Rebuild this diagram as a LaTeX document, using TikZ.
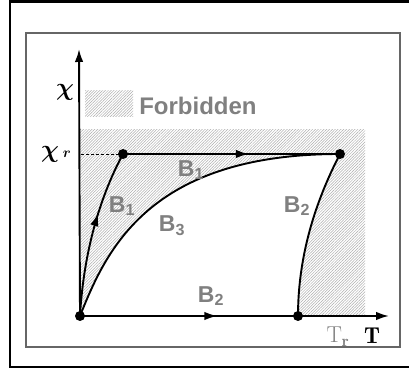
\documentclass[tikz,border=0pt]{standalone}
\usepackage{amsmath}
\usepackage{fontspec}
\setsansfont{Liberation Sans}
\usetikzlibrary{arrows.meta,decorations.markings,patterns.meta}

\begin{document}
\begin{tikzpicture}[x=1pt, y=1pt, line width=1.9pt,
    >={Latex[length=13pt,width=8.5pt]},
    dot/.style={circle, fill=black, inner sep=0pt, minimum size=10pt},
    lbl/.style={font=\sffamily\bfseries\fontsize{23}{25}\selectfont, text=black!50},
    hatch/.style={pattern={Lines[angle=45,distance=2pt,line width=0.5pt]}, pattern color=black!32},
    midarrow/.style={postaction={decorate},
        decoration={markings, mark=at position #1 with {\arrow{>}}}}]
    \useasboundingbox (0,0) rectangle (409,374);

    % Frames
    \draw[line width=2.5pt] (415,372.5) -- (10,372.5) -- (10,7) -- (415,7);
    \draw[black!60, line width=1.2pt] (26,27) rectangle (400,341);

    % Corner points of the paths
    \coordinate (O) at (80,58);
    \coordinate (P1) at (123,220);
    \coordinate (P2) at (340,220);
    \coordinate (P3) at (298,58);
    \coordinate (yr) at (81,220);
    \coordinate (yend) at (79,325);
    \coordinate (xend) at (389,58);

    % Forbidden region
    \fill[hatch] (80,58) rectangle (365,244);
    \fill[white] (O) .. controls (106,123) and (148,220) .. (P2)
        .. controls (312,166) and (298,112) .. (P3) -- cycle;

    % Legend
    \fill[hatch] (85,257) rectangle (133,283);
    \node[lbl, font=\sffamily\bfseries\fontsize{24}{26}\selectfont, anchor=west] (forb) at (135,268) {Forbidden};

    % Axes
    \draw[->] (O) -- (yend);
    \draw[->] (O) -- (xend);
    \draw[dashed, line width=0.6pt, dash pattern=on 3pt off 2pt] (yr) -- (P1);

    % Paths B1, B2, B3
    \draw[midarrow=0.62] (O) .. controls (83,112) and (96,170) .. (P1);
    \draw[midarrow=0.58] (P1) -- (P2);
    \draw[midarrow=0.63] (O) -- (P3);
    \draw (P3) .. controls (298,112) and (312,166) .. (P2);
    \draw (O) .. controls (106,123) and (148,220) .. (P2);

    % Dots
    \node[dot] (dO) at (O) {};
    \node[dot] (dP1) at (P1) {};
    \node[dot] (dP2) at (P2) {};
    \node[dot] (dP3) at (P3) {};

    % Labels
    \node[lbl] (b1a) at (122,168) {B\textsubscript{1}};
    \node[lbl] (b1b) at (191,204) {B\textsubscript{1}};
    \node[lbl] (b3) at (172,148) {B\textsubscript{3}};
    \node[lbl] (b2a) at (297,168) {B\textsubscript{2}};
    \node[lbl] (b2b) at (211,78) {B\textsubscript{2}};
    \node (chi) at (65,282) {\fontsize{26}{28}\selectfont$\boldsymbol{\chi}$};
    \node (chir) at (56,220) {\fontsize{24}{26}\selectfont$\boldsymbol{\chi}$\,{\Large$\boldsymbol{r}$}};
    \node[text=black!50] (tr) at (338,37) {\fontsize{23}{25}\selectfont$\mathrm{T}_{\mathbf{r}}$};
    \node (t) at (372,38) {\fontsize{23}{25}\selectfont$\mathbf{T}$};
\end{tikzpicture}
\end{document}
